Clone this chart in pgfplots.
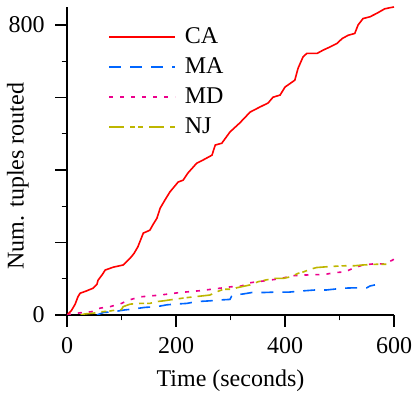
\documentclass[border=0pt]{standalone}
\usepackage{fontspec}
\setmainfont{Liberation Serif}
\usepackage{pgfplots}
\pgfplotsset{compat=1.18}
\definecolor{cablue}{RGB}{0,102,255}
\definecolor{njolive}{RGB}{190,182,0}
\begin{document}
\fontsize{12}{14}\selectfont
\begin{tikzpicture}
\begin{axis}[
  name=ax,
  scale only axis,
  width=163.5pt, height=154pt,
  xmin=0, xmax=600, ymin=0, ymax=850,
  axis x line=bottom, axis y line=left,
  axis line style={-, line width=0.65pt},
  every tick/.style={black, line width=0.65pt},
  tick align=outside,
  major tick length=6pt, minor tick length=2.75pt,
  xtick={0,200,400,600}, minor xtick={100,300,500},
  ytick={0,200,400,600,800}, minor ytick={100,300,500,700},
  yticklabels={0,,,,800},
  /pgf/number format/assume math mode=true,
  ticklabel style={font=\fontsize{12}{14}\selectfont},
  xticklabel style={yshift=-1.2pt},
  yticklabel style={xshift=-1pt},
  xlabel={Time (seconds)}, ylabel={Num. tuples routed},
  every axis x label/.style={at={(axis description cs:0.5,0)}, anchor=north, yshift=-23pt, font=\fontsize{12}{14}\selectfont},
  every axis y label/.style={at={(axis description cs:-0.15,0.451)}, rotate=90, anchor=center, font=\fontsize{12}{14}\selectfont},
  legend style={draw=none, fill=none, at={(0.125,0.948)}, anchor=north west,
    font=\fontsize{12}{14}\selectfont, row sep=1.3pt, inner sep=0pt,
    nodes={inner xsep=4.5pt}},
  legend cell align=left,
  legend image code/.code={\draw[#1] (0pt,0pt) -- (33pt,0pt);},
  every axis plot/.append style={line width=0.8pt},
]
\addplot[red] coordinates {
(0,0) (8,12) (15,30) (20,50) (24,60) (35,66) (48,74) (55,85) (57,96) (65,112) (70,124)
(85,132) (103,138) (116,157) (123,170) (130,188) (140,226) (152,234) (158,250) (165,267)
(171,295) (180,318) (189,340) (204,367) (213,372) (222,392) (238,419) (250,428)
(266,441) (272,469) (284,474) (299,505) (317,530) (336,560) (354,574) (369,585)
(378,601) (391,607) (400,629) (418,648) (424,681) (433,712) (440,722) (459,722)
(470,731) (483,740) (495,749) (505,763) (516,772) (528,777) (534,800) (543,818)
(556,823) (569,833) (583,845) (596,849) (600,850)};
\addlegendentry{CA}
\addplot[cablue, dash pattern=on 6pt off 4.5pt] coordinates {
(55,0) (67,7) (85,9) (106,14) (119,16) (143,21) (165,23) (183,28) (198,30) (220,32)
(238,37) (262,39) (275,41) (299,43) (302,52) (310,56) (323,58) (339,62) (360,62)
(379,63) (406,63) (437,67) (455,69) (476,69) (507,74) (528,75) (550,75) (556,80) (565,83)};
\addlegendentry{MA}
\addplot[magenta, dash pattern=on 2pt off 3.5pt] coordinates {
(0,0) (10,3) (24,6) (45,9) (61,19) (79,23) (100,32) (113,41) (134,50) (171,55)
(207,62) (244,67) (281,74) (302,78) (320,80) (336,89) (376,97) (394,101) (412,108)
(431,110) (451,111) (473,112) (492,117) (510,119) (525,129) (543,138) (562,141)
(583,141) (598,152) (600,155)};
\addlegendentry{MD}
\addplot[njolive, dash pattern=on 7.5pt off 3pt on 2.5pt off 1.5pt on 2.5pt off 3pt] coordinates {
(25,0) (33,3) (48,5) (64,9) (79,11) (91,14) (100,15) (103,23) (116,30) (134,32) (152,32)
(165,37) (177,39) (195,43) (220,48) (238,51) (262,55) (275,64) (287,71) (308,71)
(311,75) (336,83) (351,92) (366,97) (382,101) (397,101) (412,106) (424,115) (434,119)
(446,126) (458,131) (476,133) (498,135) (513,136) (528,136) (543,138) (568,140) (590,140)};
\addlegendentry{NJ}
\end{axis}
\pgfresetboundingbox
\path[use as bounding box] ([xshift=-33.5pt,yshift=-40.5pt]ax.south west) rectangle ([xshift=9.5pt,yshift=3.5pt]ax.north east);
\end{tikzpicture}
\end{document}
